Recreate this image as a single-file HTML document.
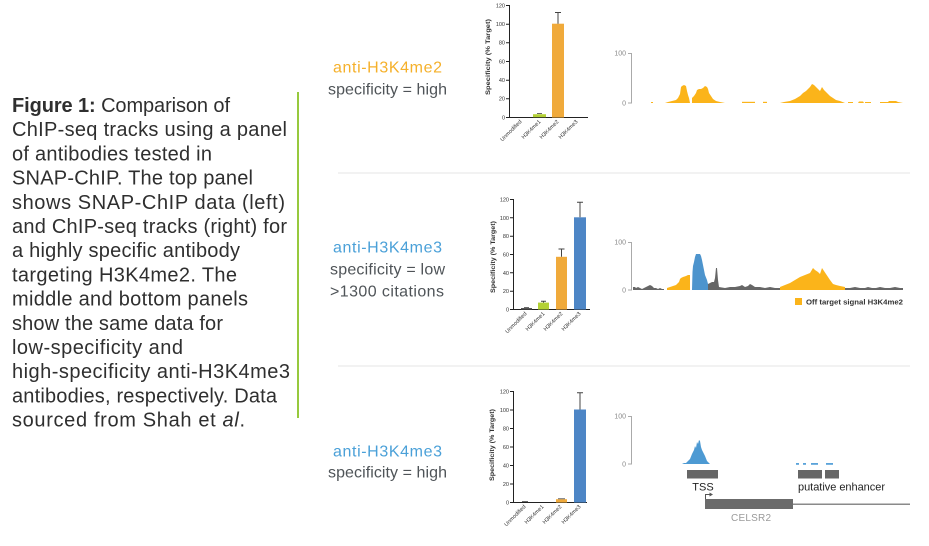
<!DOCTYPE html>
<html>
<head>
<meta charset="utf-8">
<style>
html,body{margin:0;padding:0;background:#fff;}
body{width:929px;height:546px;overflow:hidden;}
svg{display:block;}
text{font-family:"Liberation Sans",sans-serif;}
</style>
</head>
<body>
<svg width="929" height="546" viewBox="0 0 929 546" xmlns="http://www.w3.org/2000/svg">
<rect width="929" height="546" fill="#fff"/>

<!-- Left caption -->
<g font-size="20" fill="#2f2f2f">
<text x="12" y="112" textLength="218" lengthAdjust="spacing"><tspan font-weight="bold">Figure 1:</tspan> Comparison of</text>
<text x="12" y="136.2" textLength="275" lengthAdjust="spacing">ChIP-seq tracks using a panel</text>
<text x="12" y="160.4" textLength="200" lengthAdjust="spacing">of antibodies tested in</text>
<text x="12" y="184.6" textLength="241" lengthAdjust="spacing">SNAP-ChIP. The top panel</text>
<text x="12" y="208.8" textLength="273" lengthAdjust="spacing">shows SNAP-ChIP data (left)</text>
<text x="12" y="233" textLength="275" lengthAdjust="spacing">and ChIP-seq tracks (right) for</text>
<text x="12" y="257.2" textLength="228" lengthAdjust="spacing">a highly specific antibody</text>
<text x="12" y="281.4" textLength="225" lengthAdjust="spacing">targeting H3K4me2. The</text>
<text x="12" y="305.6" textLength="236" lengthAdjust="spacing">middle and bottom panels</text>
<text x="12" y="329.8" textLength="211" lengthAdjust="spacing">show the same data for</text>
<text x="12" y="354" textLength="171" lengthAdjust="spacing">low-specificity and</text>
<text x="12" y="378.2" textLength="278" lengthAdjust="spacing">high-specificity anti-H3K4me3</text>
<text x="12" y="402.4" textLength="265" lengthAdjust="spacing">antibodies, respectively. Data</text>
<text x="12" y="426.6" textLength="233" lengthAdjust="spacing">sourced from Shah et <tspan font-style="italic">al</tspan>.</text>
</g>
<rect x="297" y="92" width="2" height="326" fill="#97c93d"/>

<!-- separators -->
<rect x="338" y="172.5" width="572" height="1" fill="#e6e6e6"/>
<rect x="338" y="365.5" width="572" height="1" fill="#e6e6e6"/>

<!-- Panel labels -->
<g font-size="16" text-anchor="middle">
<text x="387.5" y="72.5" fill="#f5b02a" textLength="109" lengthAdjust="spacing">anti-H3K4me2</text>
<text x="387.5" y="94.5" fill="#4f5458" textLength="119" lengthAdjust="spacing">specificity = high</text>
<text x="387.5" y="252.5" fill="#4aa0d8" textLength="109" lengthAdjust="spacing">anti-H3K4me3</text>
<text x="387.5" y="274.5" fill="#4f5458" textLength="115" lengthAdjust="spacing">specificity = low</text>
<text x="387" y="296.5" fill="#4f5458" textLength="114" lengthAdjust="spacing">&gt;1300 citations</text>
<text x="387.5" y="456.5" fill="#4aa0d8" textLength="109" lengthAdjust="spacing">anti-H3K4me3</text>
<text x="387.5" y="477.5" fill="#4f5458" textLength="119" lengthAdjust="spacing">specificity = high</text>
</g>

<!-- ===== Bar chart TOP ===== -->
<g stroke="#222" stroke-width="1" fill="none">
<path d="M509.5 5 V117.5 H588"/>
<path d="M506 5.5H509.5 M506 24.2H509.5 M506 42.8H509.5 M506 61.5H509.5 M506 80.2H509.5 M506 98.8H509.5 M506 117.5H509.5"/>
</g>
<g font-size="5.5" fill="#333" text-anchor="end">
<text x="505" y="7.5">120</text><text x="505" y="26">100</text><text x="505" y="44.5">80</text>
<text x="505" y="63.5">60</text><text x="505" y="82">40</text><text x="505" y="100.5">20</text><text x="505" y="119.5">0</text>
</g>
<text transform="translate(490,57) rotate(-90)" font-size="6" font-weight="bold" fill="#333" text-anchor="middle" textLength="76" lengthAdjust="spacingAndGlyphs">Specificity (% Target)</text>
<rect x="533" y="114.2" width="13" height="3" fill="#b3d135"/>
<rect x="552" y="23.7" width="12" height="93.8" fill="#f0aa3b"/>
<path d="M558 23.7V12.5 M555 12.5H561" stroke="#444" stroke-width="1"/>
<path d="M537 113.5H542" stroke="#444" stroke-width="0.8"/>
<g font-size="5.5" fill="#333" text-anchor="end">
<text transform="translate(522,122) rotate(-45)">Unmodified</text>
<text transform="translate(541,122) rotate(-45)">H3K4me1</text>
<text transform="translate(559,122) rotate(-45)">H3K4me2</text>
<text transform="translate(578,122) rotate(-45)">H3K4me3</text>
</g>

<!-- ===== Bar chart MIDDLE ===== -->
<g stroke="#222" stroke-width="1" fill="none">
<path d="M513.5 199 V309.5 H590"/>
<path d="M510 199.5H513.5 M510 217.8H513.5 M510 236.2H513.5 M510 254.5H513.5 M510 272.8H513.5 M510 291.2H513.5 M510 309.5H513.5"/>
</g>
<g font-size="5.5" fill="#333" text-anchor="end">
<text x="509" y="201.5">120</text><text x="509" y="220">100</text><text x="509" y="238">80</text>
<text x="509" y="256.5">60</text><text x="509" y="275">40</text><text x="509" y="293">20</text><text x="509" y="311.5">0</text>
</g>
<text transform="translate(495,257) rotate(-90)" font-size="6" font-weight="bold" fill="#333" text-anchor="middle" textLength="72" lengthAdjust="spacingAndGlyphs">Specificity (% Target)</text>
<rect x="521" y="308" width="11" height="1.5" fill="#555"/>
<path d="M524 307.5H529" stroke="#444" stroke-width="0.8"/>
<rect x="538" y="302.6" width="11" height="6.9" fill="#b3d135"/>
<path d="M543.5 302.6V301.2 M541 301.2H546" stroke="#444" stroke-width="1"/>
<rect x="556" y="256.8" width="11" height="52.7" fill="#f0aa3b"/>
<path d="M561.5 256.8V249 M558.5 249H564.5" stroke="#444" stroke-width="1"/>
<rect x="574" y="217.3" width="12" height="92.2" fill="#4d86c6"/>
<path d="M580 217.3V202.2 M577 202.2H583" stroke="#444" stroke-width="1"/>
<g font-size="5.5" fill="#333" text-anchor="end">
<text transform="translate(527,314) rotate(-45)">Unmodified</text>
<text transform="translate(545,314) rotate(-45)">H3K4me1</text>
<text transform="translate(563,314) rotate(-45)">H3K4me2</text>
<text transform="translate(581,314) rotate(-45)">H3K4me3</text>
</g>

<!-- ===== Bar chart BOTTOM ===== -->
<g stroke="#222" stroke-width="1" fill="none">
<path d="M513.5 391 V502.5 H587"/>
<path d="M510 391.5H513.5 M510 410H513.5 M510 428.5H513.5 M510 447H513.5 M510 465.5H513.5 M510 484H513.5 M510 502.5H513.5"/>
</g>
<g font-size="5.5" fill="#333" text-anchor="end">
<text x="509" y="393.5">120</text><text x="509" y="412">100</text><text x="509" y="430.5">80</text>
<text x="509" y="449">60</text><text x="509" y="467.5">40</text><text x="509" y="486">20</text><text x="509" y="504.5">0</text>
</g>
<text transform="translate(494,445) rotate(-90)" font-size="6" font-weight="bold" fill="#333" text-anchor="middle" textLength="72" lengthAdjust="spacingAndGlyphs">Specificity (% Target)</text>
<path d="M522 501.5H528" stroke="#444" stroke-width="0.8"/>
<rect x="556" y="499.2" width="11" height="3.3" fill="#f0aa3b"/>
<path d="M558 498.8H565" stroke="#444" stroke-width="0.8"/>
<rect x="574" y="409.5" width="12" height="93" fill="#4d86c6"/>
<path d="M580 409.5V392.8 M577 392.8H583" stroke="#444" stroke-width="1"/>
<g font-size="5.5" fill="#333" text-anchor="end">
<text transform="translate(526,507) rotate(-45)">Unmodified</text>
<text transform="translate(544,507) rotate(-45)">H3K4me1</text>
<text transform="translate(562,507) rotate(-45)">H3K4me2</text>
<text transform="translate(581,507) rotate(-45)">H3K4me3</text>
</g>

<!-- ===== Track TOP ===== -->
<g stroke="#aaa" stroke-width="1" fill="none">
<path d="M631.5 53 V103.5 M628 53.5H631.5 M628 103H631.5"/>
</g>
<g font-size="7" fill="#8a8a8a" text-anchor="end">
<text x="626" y="55.5">100</text><text x="626" y="105.5">0</text>
</g>
<g fill="#fbb41a">
<rect x="651" y="102" width="2" height="1"/>
<path d="M665 103 L668 102 672 101 676 100 678 98 680 94 681 87 682 86 684 85 686 86 687 91 688 95 689 98 690 103Z"/>
<path d="M692 103 L692 98 694 96 696 93 697 90 699 89 701 89 703 88 705 86 707 87 708 89 709 93 711 96 713 99 716 101 720 102 725 103Z"/>
<rect x="742" y="101.8" width="13" height="1.2"/>
<rect x="763" y="101.8" width="4" height="1.2"/>
<path d="M780 103 L784 102 790 101 795 99 800 96 803 93 806 91 808 89 810 87 812 84 814 85 816 87 818 89 820 91 822 87 824 90 826 92 828 94 830 96 833 98 836 100 840 101 845 103Z"/>
<rect x="848" y="102" width="5" height="1"/>
<path d="M858 103 L859 101.5 863 101.5 864 103Z"/>
<rect x="865" y="102" width="6" height="1"/>
<path d="M880 103 L880 102 888 102 889 101 896 101 898 102 903 103Z"/>
</g>

<!-- ===== Track MIDDLE ===== -->
<g stroke="#aaa" stroke-width="1" fill="none">
<path d="M631.5 242 V290.5 M628 242.5H631.5 M628 290H631.5"/>
</g>
<g font-size="7" fill="#8a8a8a" text-anchor="end">
<text x="626" y="244.5">100</text><text x="626" y="292.5">0</text>
</g>
<path fill="#666" d="M633 290 L633 287 635 287 636 288 638 287 640 288 642 289 644 288 646 287 648 286 650 285 652 286 654 288 656 288 658 289 660 288 662 289 664 289 664 290Z"/>
<path fill="#fbb41a" d="M667 290 L667 288 670 287 673 286 676 285 678 283 679 282 680 279 681 278 683 277 686 276 688 275 690 275 690 290Z"/>
<path fill="#4d94cd" d="M692 290 L692.5 272 693 266 694 262 695 257 696 254 700 254 701 256 702 260 703 265 704 270 705 275 707 280 708 284 708 290Z"/>
<path fill="#666" d="M708 290 L708 284 710 283 712 282 714 282 715 278 716 268 717 268 718 280 719 287 725 288 730 287 735 287 740 286 742 285 745 287 748 286 750 284 752 285 755 287 760 287 765 288 770 287 775 288 780 288 780 290Z"/>
<path fill="#fbb41a" d="M780 290 L780 287 785 285 790 283 795 280 800 277 805 275 810 273 813 268 815 270 818 272 820 274 822 268 824 271 826 274 828 277 830 280 833 284 836 285 840 286 845 287 845 290Z"/>
<path fill="#666" d="M845 290 L845 288 850 288 855 287 860 288 865 288 868 287 872 288 876 288 880 287 885 288 890 288 895 287 900 288 903 288 903 290Z"/>
<rect x="795" y="298" width="7" height="7" fill="#fbb41a"/>
<text x="806" y="304.5" font-size="7.2" font-weight="bold" fill="#333" textLength="97" lengthAdjust="spacingAndGlyphs">Off target signal H3K4me2</text>

<!-- ===== Track BOTTOM ===== -->
<g stroke="#aaa" stroke-width="1" fill="none">
<path d="M631.5 416 V464.5 M628 416.5H631.5 M628 464H631.5"/>
</g>
<g font-size="7" fill="#8a8a8a" text-anchor="end">
<text x="626" y="418.5">100</text><text x="626" y="466.5">0</text>
</g>
<path fill="#4d9ad3" d="M682 464 L684 463 686 463 688 461 690 459 692 454 694 450 695 446 696 448 697 442 698 444 699 440 700 441 701 447 702 450 703 452 705 456 707 461 709 463 710 464Z"/>
<g fill="#5aa3da">
<rect x="796" y="463" width="3" height="1.8"/>
<rect x="803" y="463" width="3" height="1.8"/>
<rect x="811" y="463" width="7" height="1.8"/>
<rect x="826" y="463" width="7" height="1.8"/>
</g>
<g fill="#666">
<rect x="687" y="470" width="31" height="8.5"/>
<rect x="798" y="470" width="24" height="8.5"/>
<rect x="825" y="470" width="14" height="8.5"/>
</g>
<text x="703" y="490.5" font-size="11" fill="#222" text-anchor="middle">TSS</text>
<text x="798" y="490.5" font-size="11" fill="#222" textLength="87" lengthAdjust="spacing">putative enhancer</text>
<path d="M705.5 499 V494.5 H710" stroke="#555" stroke-width="1" fill="none"/>
<path d="M709.5 492.5 L713 494.5 L709.5 496.5Z" fill="#555"/>
<rect x="705" y="499" width="88" height="10" fill="#6b6b6b"/>
<rect x="793" y="503.5" width="117" height="1.5" fill="#8a8a8a"/>
<text x="751" y="521" font-size="10" fill="#9a9a9a" text-anchor="middle" textLength="40" lengthAdjust="spacing">CELSR2</text>
</svg>
</body>
</html>
